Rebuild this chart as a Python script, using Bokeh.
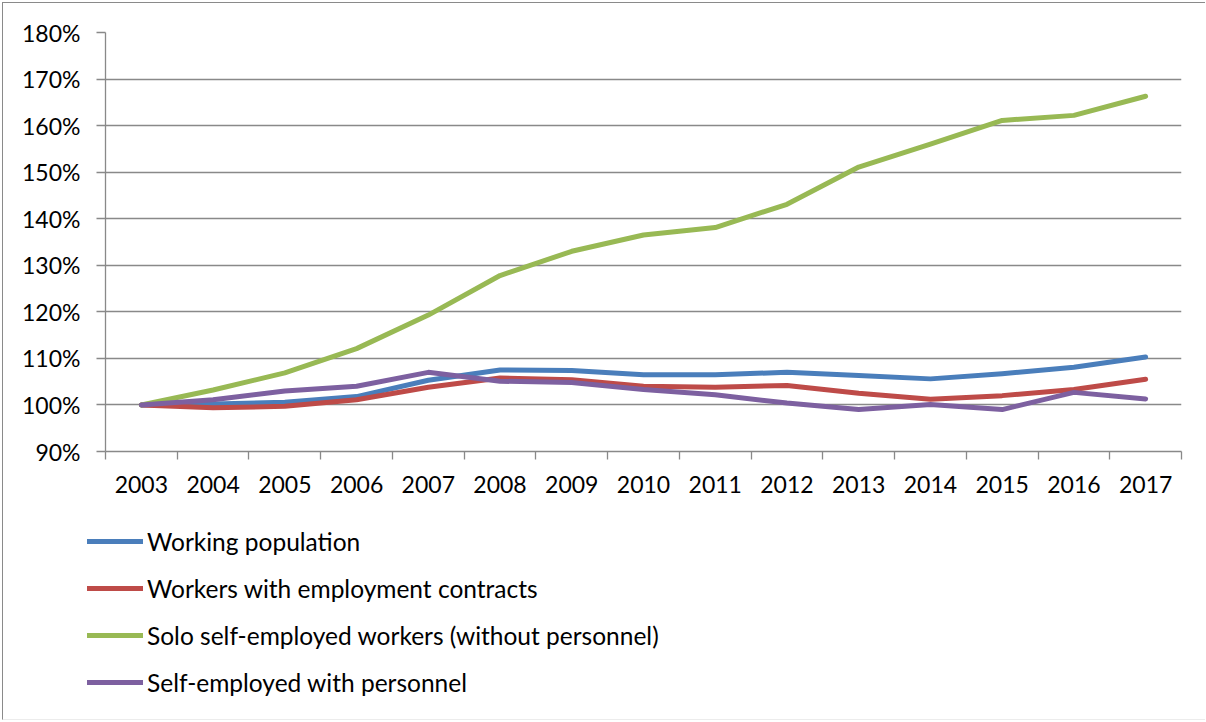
from bokeh.plotting import figure
from bokeh.models import FixedTicker, PrintfTickFormatter, Legend, LegendItem, Range1d, CustomJSTickFormatter
from bokeh.embed import file_html
from bokeh.resources import INLINE

years = list(range(2003, 2018))
y_ticks = [90, 100, 110, 120, 130, 140, 150, 160, 170, 180]

working_population = [100.0, 100.2, 100.6, 101.8, 105.3, 107.5, 107.4, 106.5, 106.5, 107.0, 106.3, 105.6, 106.7, 108.1, 110.3]
employment_contracts = [100.0, 99.4, 99.7, 101.1, 103.8, 105.8, 105.4, 104.0, 103.8, 104.2, 102.5, 101.2, 102.0, 103.3, 105.5]
solo_self_employed = [100.0, 103.2, 106.9, 112.1, 119.3, 127.8, 133.0, 136.5, 138.1, 143.1, 151.1, 156.0, 161.1, 162.2, 166.3]
self_employed_personnel = [100.0, 101.1, 103.0, 104.0, 107.0, 105.1, 104.8, 103.3, 102.2, 100.4, 99.0, 100.1, 99.0, 102.7, 101.3]

series_names = ["Working population", "Workers with employment contracts",
                "Solo self-employed workers (without personnel)", "Self-employed with personnel"]
series_values = [working_population, employment_contracts, solo_self_employed, self_employed_personnel]
series_colors = ["#4a7ebb", "#be4b48", "#98b954", "#7d60a0"]

FONT = "Lato"
GRID = "#898989"
LW = 5

p = figure(width=1203, height=505, output_backend="svg", toolbar_location=None,
           x_range=Range1d(years[0] - 0.5, years[-1] + 0.5), y_range=Range1d(90, 180),
           min_border_left=102, min_border_right=25, min_border_top=29, min_border_bottom=57,
           outline_line_color=None, background_fill_color="white", border_fill_color="white")
p.styles = {"border-left": "1px solid #8a8a8a", "border-top": "1px solid #8a8a8a",
            "position": "absolute", "left": "2px", "top": "2px"}

for name, vals, col in zip(series_names, series_values, series_colors):
    p.line(years, vals, line_color=col, line_width=LW, line_cap="round", line_join="round")

# x axis: labels at centres, ticks at category boundaries
xt = FixedTicker(ticks=years, minor_ticks=[y - 0.5 for y in years] + [years[-1] + 0.5])
p.xaxis.ticker = xt
p.xaxis.major_tick_line_color = None
p.xaxis.minor_tick_line_color = GRID
p.xaxis.minor_tick_line_width = 1.3
p.xaxis.minor_tick_in = 0
p.xaxis.minor_tick_out = 8
p.xaxis.axis_line_color = GRID
p.xaxis.axis_line_width = 1.3
p.xaxis.major_label_text_font = FONT
p.xaxis.major_label_text_font_size = "23px"
p.xaxis.major_label_text_color = "#000000"
p.xaxis.major_label_standoff = 16
p.xaxis.formatter = CustomJSTickFormatter(code="return tick.toFixed(0);")

yt = FixedTicker(ticks=y_ticks, minor_ticks=[])
p.yaxis.ticker = yt
p.yaxis.formatter = PrintfTickFormatter(format="%d%%")
p.yaxis.major_tick_line_color = GRID
p.yaxis.major_tick_line_width = 1.3
p.yaxis.major_tick_in = 0
p.yaxis.major_tick_out = 9
p.yaxis.minor_tick_line_color = None
p.yaxis.axis_line_color = GRID
p.yaxis.axis_line_width = 1.3
p.yaxis.major_label_text_font = FONT
p.yaxis.major_label_text_font_size = "23px"
p.yaxis.major_label_text_color = "#000000"
p.yaxis.major_label_standoff = 16

p.xgrid.grid_line_color = None
p.ygrid.ticker = yt
p.ygrid.grid_line_color = GRID
p.ygrid.grid_line_width = 1.3

# legend panel below the chart (same series; the lines themselves lie outside its view)
q = figure(width=1203, height=220, output_backend="svg", toolbar_location=None,
           x_range=Range1d(0, 1), y_range=Range1d(0, 1),
           x_axis_type=None, y_axis_type=None,
           min_border_left=0, min_border_right=0, min_border_top=0, min_border_bottom=0,
           outline_line_color=None, background_fill_color="white", border_fill_color="white")
q.styles = {"border-left": "1px solid #8a8a8a", "border-bottom": "1px solid #ececec",
            "position": "absolute", "left": "2px", "top": "500px"}
q.grid.visible = False
legend_renderers = []
for name, vals, col in zip(series_names, series_values, series_colors):
    legend_renderers.append(q.line(years, vals, line_color=col, line_width=LW,
                                   line_cap="round", line_join="round"))

legend = Legend(items=[LegendItem(label=n, renderers=[r]) for n, r in zip(series_names, legend_renderers)],
                location=(84, 23), orientation="vertical",
                glyph_width=56, glyph_height=30, label_height=30, label_standoff=4,
                spacing=17, padding=0, margin=0,
                label_text_font=FONT, label_text_font_size="24.5px", label_text_color="#000000",
                border_line_color=None, background_fill_alpha=0)
q.add_layout(legend, "center")

open("out.html", "w").write(file_html([p, q], INLINE))
